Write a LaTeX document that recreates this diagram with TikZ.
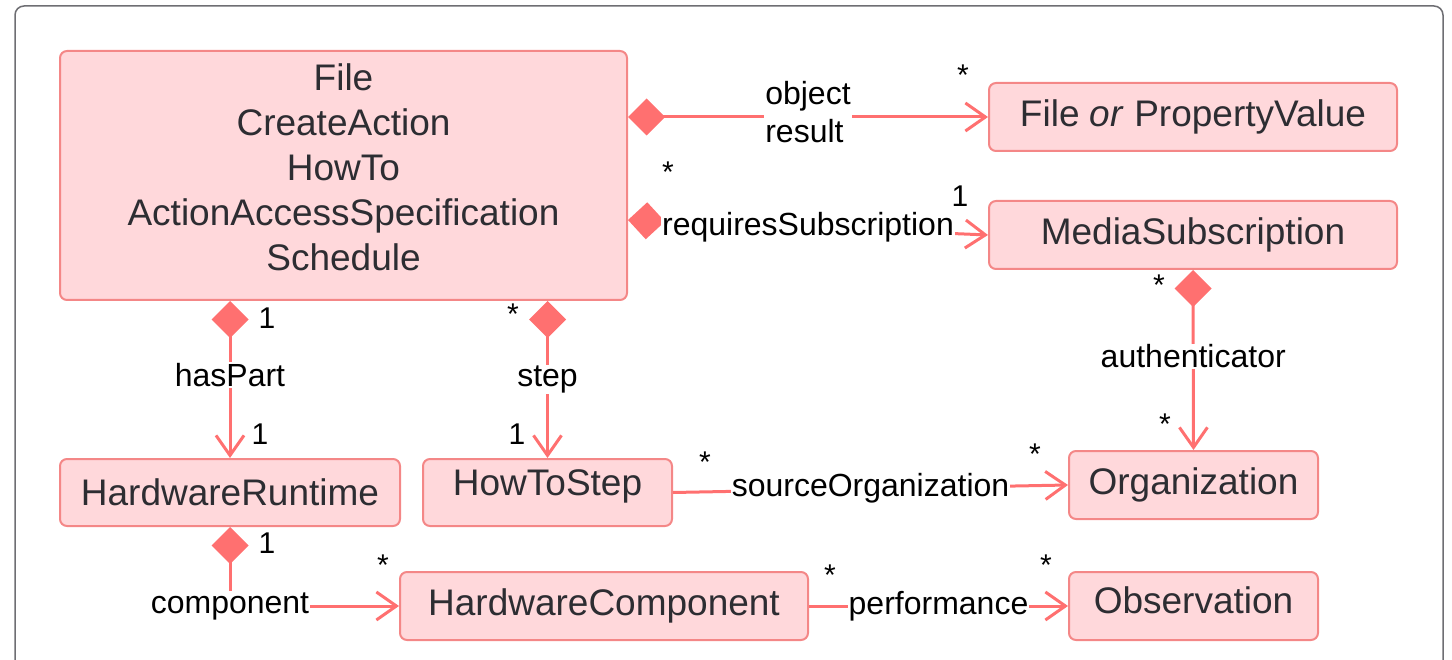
\documentclass[tikz,border=0pt]{standalone}
\usepackage{fontspec}
\setmainfont{Liberation Sans}
\usetikzlibrary{arrows.meta,calc}
\definecolor{boxfill}{RGB}{255,216,219}
\definecolor{boxline}{RGB}{244,135,135}
\definecolor{conn}{RGB}{255,112,112}
\definecolor{frame}{RGB}{110,110,115}
\definecolor{boxtext}{RGB}{45,45,50}
\tikzset{
  cls/.style={draw=boxline, fill=boxfill, line width=2pt, rounded corners=7pt,
    text=boxtext, font=\fontsize{37}{45}\selectfont, align=center, inner sep=0pt},
  clstext/.style={text=boxtext, font=\fontsize{37}{45}\selectfont, align=center, inner sep=0pt},
  assoc/.style={draw=conn, line width=3pt, -{Straight Barb[length=20pt,width=28pt]}},
  comp/.style={draw=conn, line width=3pt, {Diamond[length=37pt,width=37pt]}-{Straight Barb[length=20pt,width=28pt]}},
  rolelbl/.style={fill=white, inner sep=1pt, text=black, font=\fontsize{32}{38}\selectfont, align=center},
  mult/.style={inner sep=0pt, text=black, font=\fontsize{30}{34}\selectfont},
}
\begin{document}
\begin{tikzpicture}[x=1pt,y=-1pt]
\useasboundingbox (0,0) rectangle (1452,660);
\draw[frame, line width=1.5pt, rounded corners=9pt] (15,6) rectangle (1443,700);

\node[cls, minimum width=567pt, minimum height=249pt,
  label={[clstext, name=maintext, yshift=8pt]center:{File\\CreateAction\\HowTo\\ActionAccessSpecification\\Schedule}}]
  (main) at (343.5,175.5) {};
\node[cls, minimum width=408pt, minimum height=68pt] (fpv) at (1193,117) {File \textit{or} PropertyValue};
\node[cls, minimum width=408pt, minimum height=68pt] (media) at (1193,235) {MediaSubscription};
\node[cls, minimum width=340pt, minimum height=67pt] (hr) at (230,492.5) {HardwareRuntime};
\node[cls, minimum width=249pt, minimum height=67pt, text depth=20pt] (hts) at (547.5,492.5) {HowToStep};
\node[cls, minimum width=249pt, minimum height=68pt] (org) at (1193.5,485) {Organization};
\node[cls, minimum width=408pt, minimum height=68pt] (hc) at (604,606) {HardwareComponent};
\node[cls, minimum width=249pt, minimum height=68pt, text depth=12pt] (obs) at (1193.5,606) {Observation};

% object / result
\draw[comp] (main.east |- fpv.west) -- node[rolelbl, align=left, yshift=5pt] (lobj) {object\\result} (fpv.west);
\node[mult] (m1) at (963,75) {*};
% requiresSubscription
\draw[comp] ($(main.east)+(0,44.5)$) -- node[rolelbl, pos=0.5] (lreq) {requiresSubscription} (media.west);
\node[mult] (m2) at (668,172) {*};
\node[mult] (m3) at (960,196) {1};
% hasPart
\draw[comp] (hr.north |- main.south) -- node[rolelbl, pos=0.47] (lhas) {hasPart} (hr.north);
\node[mult] (m4) at (267,318) {1};
\node[mult] (m5) at (260,434) {1};
% step
\draw[comp] (hts.north |- main.south) -- node[rolelbl, pos=0.5] (lstep) {step} (hts.north);
\node[mult] (m6) at (513,314) {*};
\node[mult] (m7) at (517,434) {1};
% authenticator
\draw[comp] (media.south) -- node[rolelbl, pos=0.48] (lauth) {authenticator} (org.north);
\node[mult] (m8) at (1159,285) {*};
\node[mult] (m9) at (1165,424) {*};
% sourceOrganization
\draw[assoc] (hts.east) -- node[rolelbl, yshift=1pt] (lsrc) {sourceOrganization} (org.west);
\node[mult] (m10) at (705,462) {*};
\node[mult] (m11) at (1035,454) {*};
% component
\draw[comp, rounded corners=0pt] (hr.south) -- (hr.south |- hc.west) -- (hc.west);
\node[rolelbl] (lcomp) at (hr.south |- hc.west) {component};
\node[mult] (m12) at (267,543) {1};
\node[mult] (m13) at (383,565) {*};
% performance
\draw[assoc] (hc.east) -- node[rolelbl] (lperf) {performance} (obs.west);
\node[mult] (m14) at (830,575) {*};
\node[mult] (m15) at (1046,565) {*};
\end{tikzpicture}
\end{document}
